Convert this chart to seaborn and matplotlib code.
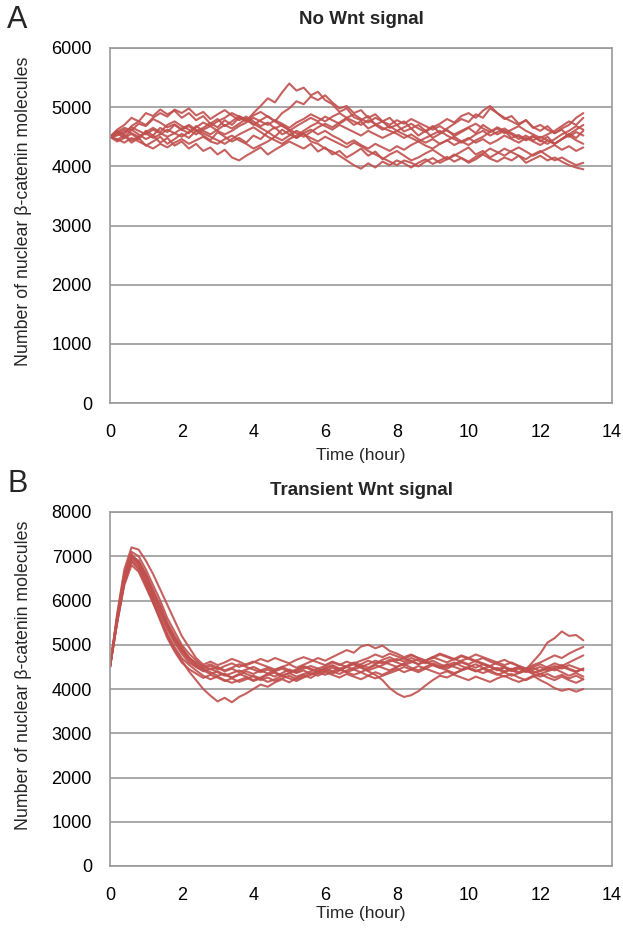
import matplotlib
matplotlib.use("Agg")
import matplotlib.pyplot as plt
import seaborn as sns
import pandas as pd

# ---------------- data ----------------
time_h = [0.0, 0.2, 0.4, 0.6, 0.8, 1.0, 1.2, 1.4, 1.6, 1.8,
          2.0, 2.2, 2.4, 2.6, 2.8, 3.0, 3.2, 3.4, 3.6, 3.8,
          4.0, 4.2, 4.4, 4.6, 4.8, 5.0, 5.2, 5.4, 5.6, 5.8,
          6.0, 6.2, 6.4, 6.6, 6.8, 7.0, 7.2, 7.4, 7.6, 7.8,
          8.0, 8.2, 8.4, 8.6, 8.8, 9.0, 9.2, 9.4, 9.6, 9.8,
          10.0, 10.2, 10.4, 10.6, 10.8, 11.0, 11.2, 11.4, 11.6, 11.8,
          12.0, 12.2, 12.4, 12.6, 12.8, 13.0, 13.2]

no_wnt = {
    "run1": [4500, 4580, 4650, 4610, 4720, 4680, 4800, 4740, 4660, 4710,
             4620, 4680, 4590, 4650, 4730, 4660, 4780, 4700, 4820, 4760,
             4900, 5020, 5150, 5080, 5250, 5400, 5280, 5330, 5200, 5260,
             5120, 5050, 4920, 4980, 4830, 4780, 4850, 4700, 4760, 4650,
             4700, 4590, 4640, 4520, 4600, 4480, 4550, 4620, 4510, 4580,
             4650, 4560, 4700, 4620, 4540, 4600, 4480, 4530, 4450, 4520,
             4420, 4500, 4380, 4460, 4550, 4480, 4600],
    "run2": [4500, 4620, 4700, 4820, 4760, 4900, 4850, 4960, 4880, 4940,
             4820, 4900, 4780, 4850, 4720, 4800, 4680, 4760, 4850, 4790,
             4700, 4780, 4850, 4760, 4900, 4980, 5100, 5050, 5180, 5120,
             5200, 5080, 4980, 5020, 4900, 4950, 4820, 4880, 4760, 4820,
             4700, 4760, 4640, 4700, 4600, 4680, 4560, 4640, 4720, 4800,
             4750, 4880, 4820, 4980, 4900, 4800, 4850, 4720, 4780, 4650,
             4700, 4620, 4560, 4640, 4700, 4820, 4900],
    "run3": [4500, 4450, 4520, 4400, 4480, 4350, 4420, 4500, 4380, 4460,
             4550, 4480, 4600, 4520, 4440, 4580, 4500, 4420, 4480, 4400,
             4520, 4460, 4580, 4500, 4620, 4540, 4480, 4560, 4420, 4380,
             4300, 4250, 4180, 4100, 4020, 3960, 4050, 3980, 4080, 4020,
             4100, 4050, 3980, 4060, 4120, 4040, 4100, 4160, 4080, 4140,
             4060, 4120, 4200, 4130, 4080, 4150, 4100, 4180, 4060, 4120,
             4180, 4100, 4150, 4080, 4020, 3980, 3950],
    "run4": [4500, 4560, 4480, 4620, 4540, 4460, 4520, 4400, 4480, 4350,
             4420, 4300, 4380, 4260, 4320, 4200, 4280, 4150, 4100, 4180,
             4250, 4320, 4200, 4280, 4350, 4420, 4360, 4300, 4380, 4250,
             4320, 4200, 4260, 4150, 4220, 4300, 4180, 4250, 4120, 4200,
             4260, 4180, 4100, 4150, 4220, 4280, 4200, 4120, 4180, 4250,
             4320, 4200, 4260, 4150, 4220, 4300, 4240, 4180, 4120, 4200,
             4260, 4180, 4100, 4150, 4080, 4020, 4060],
    "run5": [4500, 4600, 4540, 4680, 4760, 4700, 4820, 4900, 4840, 4960,
             4900, 4980, 4860, 4920, 4800, 4880, 4950, 4860, 4780, 4840,
             4760, 4680, 4740, 4640, 4700, 4600, 4680, 4750, 4820, 4760,
             4840, 4780, 4720, 4800, 4700, 4760, 4640, 4700, 4620, 4680,
             4600, 4660, 4720, 4640, 4580, 4660, 4720, 4800, 4740, 4850,
             4900, 4820, 4940, 5020, 4900, 4820, 4760, 4700, 4780, 4660,
             4600, 4680, 4560, 4620, 4500, 4580, 4520],
    "run6": [4500, 4420, 4480, 4550, 4460, 4600, 4520, 4650, 4580, 4700,
             4620, 4560, 4680, 4600, 4540, 4620, 4700, 4640, 4720, 4800,
             4720, 4650, 4580, 4660, 4540, 4600, 4480, 4560, 4620, 4540,
             4600, 4520, 4460, 4380, 4440, 4360, 4300, 4380, 4320, 4260,
             4340, 4280, 4360, 4420, 4350, 4300, 4380, 4440, 4360, 4420,
             4480, 4400, 4460, 4380, 4440, 4520, 4460, 4400, 4480, 4420,
             4360, 4440, 4380, 4460, 4520, 4440, 4380],
    "run7": [4500, 4540, 4620, 4560, 4500, 4580, 4650, 4580, 4700, 4760,
             4680, 4620, 4540, 4620, 4680, 4600, 4540, 4600, 4680, 4740,
             4820, 4760, 4700, 4780, 4720, 4650, 4740, 4800, 4880, 4820,
             4760, 4840, 4900, 4820, 4760, 4700, 4780, 4720, 4650, 4600,
             4550, 4480, 4540, 4460, 4400, 4460, 4380, 4440, 4500, 4420,
             4360, 4440, 4500, 4580, 4640, 4560, 4620, 4680, 4600, 4540,
             4480, 4540, 4600, 4680, 4760, 4700, 4820],
    "run8": [4500, 4460, 4400, 4480, 4420, 4360, 4300, 4380, 4320, 4400,
             4460, 4380, 4440, 4500, 4420, 4380, 4460, 4520, 4440, 4380,
             4300, 4360, 4420, 4500, 4440, 4520, 4600, 4540, 4480, 4420,
             4500, 4440, 4380, 4320, 4400, 4340, 4260, 4200, 4140, 4080,
             4020, 4100, 4060, 4000, 4080, 4140, 4060, 4120, 4200, 4140,
             4080, 4160, 4220, 4300, 4240, 4180, 4260, 4320, 4250, 4180,
             4240, 4300, 4360, 4280, 4340, 4260, 4320],
    "run9": [4500, 4520, 4580, 4660, 4600, 4540, 4620, 4560, 4500, 4560,
             4640, 4700, 4620, 4560, 4500, 4440, 4380, 4460, 4540, 4600,
             4660, 4580, 4500, 4440, 4380, 4460, 4520, 4600, 4680, 4740,
             4680, 4620, 4700, 4640, 4580, 4520, 4600, 4540, 4480, 4540,
             4600, 4540, 4480, 4420, 4480, 4540, 4600, 4520, 4460, 4400,
             4460, 4540, 4600, 4520, 4580, 4640, 4560, 4500, 4440, 4500,
             4440, 4380, 4460, 4540, 4600, 4680, 4620],
    "run10": [4500, 4580, 4520, 4440, 4500, 4560, 4480, 4540, 4620, 4560,
              4500, 4580, 4660, 4740, 4680, 4760, 4820, 4900, 4840, 4780,
              4860, 4920, 4840, 4760, 4680, 4620, 4560, 4500, 4580, 4660,
              4720, 4660, 4740, 4820, 4880, 4800, 4740, 4820, 4760, 4700,
              4780, 4720, 4800, 4740, 4680, 4620, 4680, 4600, 4540, 4600,
              4660, 4720, 4640, 4580, 4660, 4600, 4540, 4460, 4520, 4440,
              4500, 4440, 4380, 4460, 4540, 4620, 4700],
}

transient_wnt = {
    "run1": [4500, 5600, 6500, 7000, 6900, 6600, 6200, 5900, 5500, 5200,
             4950, 4700, 4550, 4450, 4380, 4300, 4350, 4250, 4320, 4400,
             4340, 4420, 4480, 4400, 4460, 4380, 4440, 4520, 4460, 4400,
             4480, 4540, 4460, 4520, 4600, 4540, 4480, 4560, 4620, 4560,
             4500, 4580, 4640, 4560, 4620, 4540, 4480, 4560, 4500, 4440,
             4500, 4560, 4480, 4420, 4480, 4400, 4460, 4380, 4440, 4620,
             4800, 5050, 5150, 5300, 5200, 5220, 5100],
    "run2": [4500, 5500, 6400, 6900, 6750, 6400, 6000, 5600, 5200, 4900,
             4650, 4400, 4200, 4000, 3850, 3720, 3800, 3700, 3820, 3900,
             4000, 4100, 4050, 4150, 4220, 4150, 4250, 4320, 4250, 4350,
             4420, 4350, 4420, 4500, 4440, 4380, 4460, 4540, 4480, 4420,
             4500, 4560, 4480, 4420, 4500, 4580, 4520, 4460, 4540, 4600,
             4540, 4480, 4560, 4500, 4420, 4480, 4400, 4460, 4380, 4440,
             4500, 4420, 4480, 4540, 4460, 4400, 4460],
    "run3": [4500, 5650, 6600, 7100, 7000, 6700, 6350, 6000, 5600, 5300,
             5000, 4800, 4650, 4500, 4560, 4480, 4400, 4460, 4380, 4440,
             4500, 4420, 4350, 4420, 4500, 4560, 4480, 4550, 4620, 4700,
             4640, 4720, 4800, 4880, 4820, 4960, 5000, 4920, 4980, 4860,
             4800, 4720, 4780, 4700, 4640, 4720, 4660, 4600, 4680, 4620,
             4560, 4640, 4700, 4620, 4560, 4500, 4440, 4500, 4420, 4480,
             4400, 4460, 4520, 4460, 4540, 4480, 4420],
    "run4": [4500, 5550, 6450, 6950, 6800, 6450, 6050, 5700, 5350, 5050,
             4800, 4600, 4500, 4420, 4340, 4400, 4320, 4260, 4340, 4280,
             4200, 4260, 4340, 4280, 4360, 4440, 4380, 4460, 4520, 4460,
             4400, 4480, 4420, 4500, 4560, 4480, 4400, 4320, 4200, 4020,
             3900, 3820, 3860, 3950, 4080, 4200, 4300, 4260, 4340, 4420,
             4480, 4400, 4460, 4520, 4440, 4500, 4420, 4360, 4420, 4340,
             4280, 4340, 4260, 4320, 4240, 4300, 4220],
    "run5": [4500, 5600, 6550, 7050, 6850, 6500, 6100, 5750, 5400, 5100,
             4850, 4650, 4500, 4400, 4460, 4380, 4300, 4360, 4420, 4340,
             4280, 4200, 4260, 4180, 4240, 4300, 4220, 4280, 4360, 4300,
             4380, 4320, 4260, 4340, 4280, 4220, 4300, 4380, 4320, 4400,
             4460, 4380, 4440, 4520, 4460, 4400, 4340, 4400, 4320, 4260,
             4200, 4280, 4220, 4160, 4240, 4300, 4220, 4160, 4220, 4300,
             4200, 4120, 4020, 3960, 4000, 3940, 4000],
    "run6": [4500, 5700, 6700, 7200, 7150, 6900, 6600, 6250, 5900, 5550,
             5200, 4950, 4700, 4550, 4620, 4540, 4600, 4680, 4620, 4540,
             4600, 4680, 4620, 4700, 4640, 4580, 4660, 4720, 4660, 4600,
             4540, 4620, 4560, 4500, 4580, 4640, 4700, 4780, 4720, 4800,
             4740, 4680, 4760, 4700, 4640, 4720, 4800, 4740, 4680, 4760,
             4700, 4780, 4720, 4660, 4600, 4540, 4600, 4520, 4460, 4540,
             4600, 4680, 4760, 4700, 4800, 4880, 4950],
    "run7": [4500, 5500, 6350, 6800, 6650, 6300, 5950, 5550, 5150, 4850,
             4600, 4450, 4350, 4250, 4320, 4260, 4180, 4240, 4160, 4220,
             4300, 4240, 4320, 4380, 4300, 4360, 4420, 4500, 4440, 4380,
             4460, 4400, 4340, 4420, 4480, 4560, 4640, 4580, 4660, 4720,
             4640, 4700, 4620, 4560, 4640, 4700, 4780, 4720, 4660, 4740,
             4680, 4620, 4560, 4500, 4440, 4380, 4440, 4500, 4420, 4360,
             4420, 4500, 4580, 4520, 4600, 4680, 4760],
    "run8": [4500, 5580, 6480, 6980, 6850, 6550, 6150, 5800, 5450, 5150,
             4900, 4700, 4600, 4520, 4440, 4500, 4420, 4480, 4560, 4500,
             4440, 4380, 4440, 4360, 4300, 4360, 4280, 4340, 4400, 4460,
             4520, 4600, 4540, 4620, 4560, 4500, 4560, 4640, 4580, 4660,
             4600, 4540, 4600, 4680, 4620, 4560, 4480, 4540, 4600, 4520,
             4460, 4400, 4460, 4380, 4320, 4380, 4300, 4360, 4420, 4500,
             4560, 4480, 4420, 4500, 4440, 4380, 4460],
    "run9": [4500, 5620, 6560, 7000, 6880, 6600, 6250, 5850, 5450, 5150,
             4900, 4720, 4560, 4460, 4520, 4440, 4520, 4580, 4500, 4560,
             4620, 4560, 4500, 4440, 4500, 4420, 4360, 4420, 4340, 4400,
             4460, 4520, 4440, 4380, 4440, 4500, 4420, 4480, 4540, 4620,
             4680, 4620, 4700, 4640, 4580, 4640, 4560, 4500, 4560, 4640,
             4700, 4640, 4580, 4520, 4600, 4660, 4580, 4520, 4460, 4400,
             4340, 4400, 4460, 4380, 4300, 4360, 4280],
    "run10": [4500, 5520, 6420, 6880, 6700, 6350, 5950, 5600, 5250, 4950,
              4700, 4550, 4420, 4300, 4220, 4280, 4200, 4140, 4200, 4260,
              4180, 4240, 4160, 4220, 4300, 4240, 4180, 4260, 4320, 4380,
              4320, 4400, 4460, 4380, 4320, 4380, 4300, 4240, 4300, 4360,
              4420, 4500, 4440, 4380, 4460, 4540, 4480, 4420, 4360, 4420,
              4480, 4420, 4360, 4420, 4340, 4280, 4340, 4260, 4200, 4280,
              4340, 4260, 4200, 4280, 4200, 4140, 4220],
}

titles = ["No Wnt signal", "Transient Wnt signal"]
panel_letters = ["A", "B"]
y_ticks_a = [0, 1000, 2000, 3000, 4000, 5000, 6000]
y_ticks_b = [0, 1000, 2000, 3000, 4000, 5000, 6000, 7000, 8000]
x_ticks = [0, 2, 4, 6, 8, 10, 12, 14]
x_label = "Time (hour)"
y_label = "Number of nuclear β-catenin molecules"


def to_long(runs):
    rows = []
    for name, vals in runs.items():
        for t, v in zip(time_h, vals):
            rows.append({"run": name, "time": t, "value": v})
    return pd.DataFrame(rows)


# ---------------- style ----------------
sns.set_style("white")
plt.rcParams["font.family"] = ["Liberation Sans", "DejaVu Sans"]

LINE = "#C0504D"
GRID = "#9A9A9A"

fig = plt.figure(figsize=(6.23, 9.31), dpi=100)
W, H = 623, 931
boxes = [(110, 48, 612, 403), (110, 512, 612, 866)]
datasets = [no_wnt, transient_wnt]
yticks_list = [y_ticks_a, y_ticks_b]
title_y = [1.079, 1.062]
xlabel_y = [-0.128, -0.113]
letter_y = [20, 484]

for k in range(2):
    x0, y0, x1, y1 = boxes[k]
    ax = fig.add_axes([x0 / W, 1 - y1 / H, (x1 - x0) / W, (y1 - y0) / H])
    df = to_long(datasets[k])
    sns.lineplot(data=df, x="time", y="value", units="run", estimator=None,
                 color=LINE, linewidth=1.5, alpha=0.9, ax=ax, legend=False)
    yt = yticks_list[k]
    ax.set_xlim(0, 14)
    ax.set_ylim(yt[0], yt[-1])
    ax.set_xticks(x_ticks)
    ax.set_yticks(yt)
    ax.set_xticklabels([str(v) for v in x_ticks], fontsize=13)
    ax.set_yticklabels([str(v) for v in yt], fontsize=13)
    ax.yaxis.grid(True, color=GRID, linewidth=1.2)
    ax.xaxis.grid(False)
    ax.set_axisbelow(True)
    for s in ax.spines.values():
        s.set_color(GRID)
        s.set_linewidth(1.2)
    ax.tick_params(axis="both", direction="out", length=5, width=1.0,
                   color=GRID, labelcolor="black")
    ax.tick_params(axis="y", pad=8)
    ax.tick_params(axis="x", pad=10)
    ax.set_xlabel(x_label, fontsize=12.5)
    ax.set_ylabel(y_label, fontsize=12.8)
    ax.xaxis.set_label_coords(0.5, xlabel_y[k])
    ax.yaxis.set_label_coords(-0.155, 0.54)
    ax.text(0.5, title_y[k], titles[k], transform=ax.transAxes,
            fontsize=13.5, fontweight="bold", ha="center", va="center")
    fig.text(7 / W, 1 - letter_y[k] / H, panel_letters[k], fontsize=22,
             ha="left", va="center")

fig.savefig("out.png", dpi=100)
